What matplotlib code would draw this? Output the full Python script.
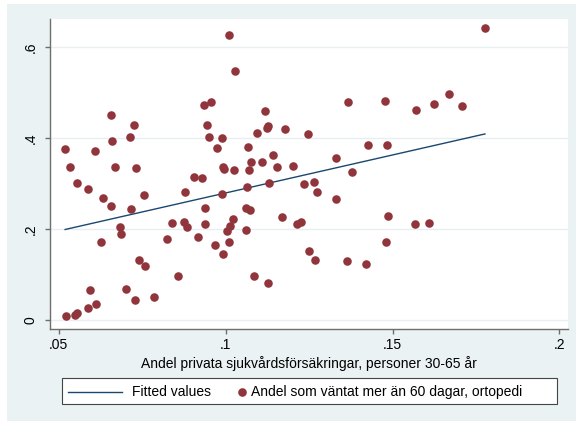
import matplotlib
matplotlib.use("Agg")
import matplotlib.pyplot as plt
from matplotlib.patches import Rectangle
from matplotlib.lines import Line2D

plt.rcParams['font.family'] = ['Liberation Sans', 'DejaVu Sans']

# Data: share with private health insurance (x) vs share waiting > 60 days, orthopedics (y)
x_private = [0.0519, 0.0534, 0.0555, 0.0588, 0.0631, 0.0656, 0.0656, 0.0659, 0.0608, 0.0668,
             0.0712, 0.0725, 0.0730, 0.0716, 0.0756, 0.0878, 0.0904, 0.0929, 0.0937, 0.0988,
             0.0991, 0.0995, 0.0973, 0.0988, 0.0949, 0.0944, 0.0936, 0.0955, 0.1009, 0.1027,
             0.1117, 0.1128, 0.1125, 0.1094, 0.1179, 0.1247, 0.1067, 0.1076, 0.1110, 0.1141,
             0.1154, 0.1201, 0.1025, 0.1071, 0.1064, 0.1131, 0.1235, 0.1264, 0.1274, 0.1331,
             0.1331, 0.1378, 0.1367, 0.1478, 0.1570, 0.1623, 0.1670, 0.1708, 0.1777, 0.1426,
             0.1484, 0.1485, 0.1567, 0.1610, 0.1481, 0.1365, 0.1422, 0.1251, 0.1268, 0.1169,
             0.1213, 0.1225, 0.1085, 0.1128, 0.1062, 0.1074, 0.1060, 0.1023, 0.1013, 0.1004,
             0.1011, 0.0992, 0.0967, 0.0918, 0.0938, 0.0839, 0.0874, 0.0884, 0.0825, 0.0682,
             0.0685, 0.0626, 0.0741, 0.0757, 0.0857, 0.0594, 0.0700, 0.0728, 0.0784, 0.0611,
             0.0588, 0.0521, 0.0550, 0.0556]
y_wait60 = [0.377, 0.337, 0.302, 0.288, 0.269, 0.252, 0.452, 0.394, 0.372, 0.337,
            0.404, 0.430, 0.335, 0.246, 0.276, 0.282, 0.315, 0.314, 0.248, 0.277,
            0.338, 0.334, 0.379, 0.402, 0.403, 0.429, 0.474, 0.481, 0.627, 0.548,
            0.460, 0.428, 0.424, 0.412, 0.420, 0.409, 0.382, 0.348, 0.348, 0.364,
            0.337, 0.340, 0.330, 0.331, 0.293, 0.303, 0.299, 0.304, 0.282, 0.268,
            0.358, 0.327, 0.480, 0.483, 0.462, 0.476, 0.497, 0.472, 0.642, 0.385,
            0.385, 0.229, 0.212, 0.215, 0.173, 0.130, 0.125, 0.152, 0.134, 0.227,
            0.211, 0.216, 0.098, 0.082, 0.247, 0.243, 0.198, 0.223, 0.207, 0.197,
            0.172, 0.146, 0.165, 0.183, 0.211, 0.215, 0.216, 0.205, 0.180, 0.206,
            0.189, 0.172, 0.133, 0.120, 0.097, 0.067, 0.069, 0.044, 0.051, 0.036,
            0.027, 0.010, 0.011, 0.016]

# Fitted values (linear fit) at min and max of x
fit_y = [0.200, 0.410]

x_ticks = [0.05, 0.10, 0.15, 0.20]
x_ticklabels = ['.05', '.1', '.15', '.2']
y_ticks = [0.0, 0.2, 0.4, 0.6]
y_ticklabels = ['0', '.2', '.4', '.6']

xlabel = 'Andel privata sjukvårdsförsäkringar, personer 30-65 år'
legend_fit = 'Fitted values'
legend_pts = 'Andel som väntat mer än 60 dagar, ortopedi'

W, H = 578, 421
BG = '#EAF2F3'
RED = '#90353B'
NAVY = '#1A476F'
AXC = '#6E6E6E'

def fx(px):
    return px / W

def fy(py):
    return 1 - py / H

fig = plt.figure(figsize=(W / 100, H / 100), dpi=100)
fig.patch.set_facecolor('white')
fig.patches.append(Rectangle((fx(7), 0), fx(576) - fx(7), fy(4), transform=fig.transFigure,
                             facecolor=BG, edgecolor='none', zorder=-10))

ax = fig.add_axes([fx(50), fy(329), fx(568) - fx(50), fy(19) - fy(329)])
ax.set_facecolor('white')
ax.set_xlim(0.04736, 0.20259)
ax.set_ylim(-0.0187, 0.6626)

for s in ['top', 'right']:
    ax.spines[s].set_visible(False)
for s in ['left', 'bottom']:
    ax.spines[s].set_color(AXC)
    ax.spines[s].set_linewidth(1.0)

ax.set_xticks(x_ticks)
ax.set_xticklabels(x_ticklabels)
ax.set_yticks(y_ticks)
ax.set_yticklabels(y_ticklabels, rotation=90, va='center')
ax.tick_params(axis='both', length=3.8, width=1.0, color=AXC, labelsize=10, labelcolor='black')
ax.tick_params(axis='x', pad=2.5)
ax.tick_params(axis='y', pad=5)

ax.grid(axis='y', color='#E8EFF1', linewidth=1.0, zorder=0)
ax.set_axisbelow(True)

ax.set_xlabel(xlabel, fontsize=10, labelpad=3)

xmin, xmax = min(x_private), max(x_private)
ax.plot([xmin, xmax], fit_y, color=NAVY, linewidth=1.0, zorder=2)
ax.scatter(x_private, y_wait60, s=38, color=RED, linewidths=0, zorder=3)

# Legend box (Stata style, drawn in figure coordinates)
fig.patches.append(Rectangle((fx(62), fy(404)), fx(556.7) - fx(62), fy(378.3) - fy(404),
                             transform=fig.transFigure, facecolor='white',
                             edgecolor='#444444', linewidth=0.8, zorder=5))
ly = fy(391.6)
fig.lines.append(Line2D([fx(68.3), fx(121.7)], [ly, ly], transform=fig.transFigure,
                        color=NAVY, linewidth=1.0, zorder=6))
fig.lines.append(Line2D([fx(242)], [ly], transform=fig.transFigure, marker='o',
                        markersize=6.2, markerfacecolor=RED, markeredgewidth=0,
                        linestyle='none', zorder=6))
fig.text(fx(131.7), ly, legend_fit, fontsize=10, va='center', ha='left', zorder=7)
fig.text(fx(250.7), ly, legend_pts, fontsize=10, va='center', ha='left', zorder=7)

fig.savefig('out.png', dpi=100, facecolor=fig.get_facecolor())
